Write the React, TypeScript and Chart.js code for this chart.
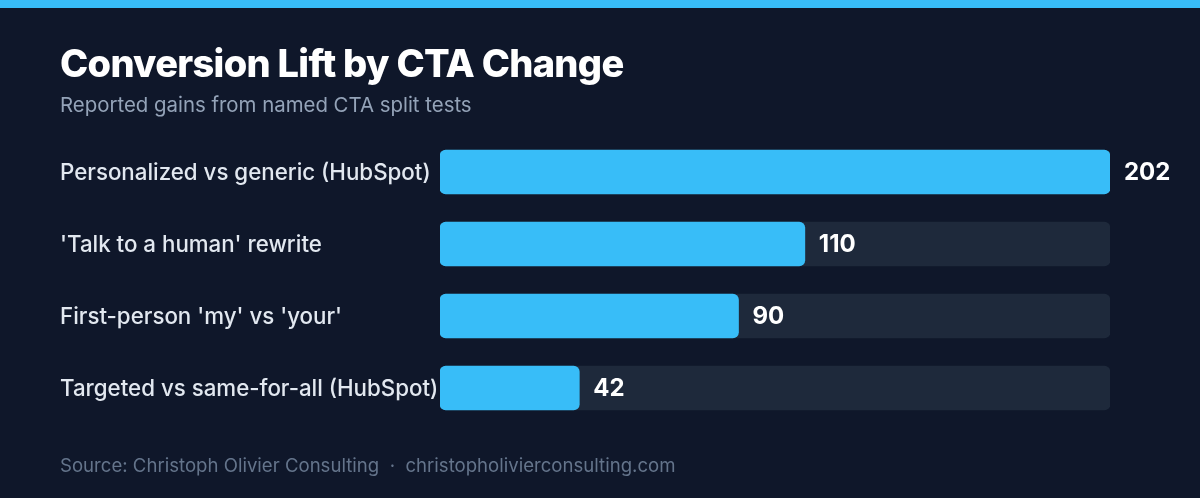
import React, { useEffect, useRef } from "react";
import { Chart, registerables } from "chart.js";

Chart.register(...registerables);

const categories = [
  "Personalized vs generic (HubSpot)",
  "'Talk to a human' rewrite",
  "First-person 'my' vs 'your'",
  "Targeted vs same-for-all (HubSpot)",
];
const liftValues = [202, 110, 90, 42];
const titleText = "Conversion Lift by CTA Change";
const subtitleText = "Reported gains from named CTA split tests";
const footerText = "Source: Christoph Olivier Consulting  ·  christopholivierconsulting.com";

const FONT = "Inter, 'Noto Sans', sans-serif";

export default function App() {
  const ref = useRef<HTMLCanvasElement | null>(null);

  useEffect(() => {
    document.body.style.margin = "0";
    const canvas = ref.current;
    if (!canvas) return;
    const maxVal = Math.max(...liftValues);
    const trackValues = liftValues.map(() => maxVal);

    const decor = {
      id: "decor",
      beforeDraw(chart: any) {
        const { ctx, width, height } = chart;
        ctx.save();
        ctx.fillStyle = "#0f172a";
        ctx.fillRect(0, 0, width, height);
        ctx.fillStyle = "#38bdf8";
        ctx.fillRect(0, 0, width, 8);
        ctx.textBaseline = "alphabetic";
        ctx.textAlign = "left";
        ctx.fillStyle = "#ffffff";
        ctx.font = `800 38px ${FONT}`;
        try { (ctx as any).letterSpacing = "-0.7px"; } catch (e) {}
        ctx.fillText(titleText, 60, 77);
        try { (ctx as any).letterSpacing = "0px"; } catch (e) {}
        ctx.fillStyle = "#94a3b8";
        ctx.font = `400 20.4px ${FONT}`;
        ctx.fillText(subtitleText, 60, 112);
        ctx.fillStyle = "#64748b";
        ctx.font = `400 18.6px ${FONT}`;
        ctx.fillText(footerText, 60, 472);
        ctx.restore();
      },
      afterDatasetsDraw(chart: any) {
        const { ctx } = chart;
        const meta = chart.getDatasetMeta(0);
        ctx.save();
        ctx.fillStyle = "#ffffff";
        ctx.font = `700 24px ${FONT}`;
        ctx.textAlign = "left";
        ctx.textBaseline = "middle";
        meta.data.forEach((el: any, i: number) => {
          ctx.fillText(String(liftValues[i]), el.x + 14, el.y + 1);
        });
        ctx.restore();
      },
    };

    const chart = new Chart(canvas, {
      type: "bar",
      data: {
        labels: categories,
        datasets: [
          {
            data: liftValues,
            backgroundColor: "#38bdf8",
            borderRadius: 6,
            borderSkipped: false,
            grouped: false,
            barThickness: 44,
          } as any,
          {
            data: trackValues,
            backgroundColor: "#1e293b",
            borderRadius: 6,
            borderSkipped: false,
            grouped: false,
            barThickness: 44,
          } as any,
        ],
      },
      options: {
        indexAxis: "y",
        responsive: false,
        animation: false,
        layout: { padding: { left: 60, right: 90, top: 136, bottom: 74 } },
        plugins: {
          legend: { display: false },
          tooltip: { enabled: false },
          title: { display: false },
        },
        scales: {
          x: { display: false, min: 0, max: maxVal },
          y: {
            grid: { display: false, drawTicks: false },
            border: { display: false },
            ticks: {
              crossAlign: "far",
              color: "#e2e8f0",
              padding: 0,
              labelOffset: 1.5,
              font: { family: FONT, size: 22.3, weight: 500 },
            },
            afterFit: (scale: any) => {
              scale.width = 380;
            },
          },
        },
      } as any,
      plugins: [decor],
    });
    return () => chart.destroy();
  }, []);

  return (
    <div style={{ width: 1200, height: 498 }}>
      <canvas ref={ref} width={1200} height={498} />
    </div>
  );
}
